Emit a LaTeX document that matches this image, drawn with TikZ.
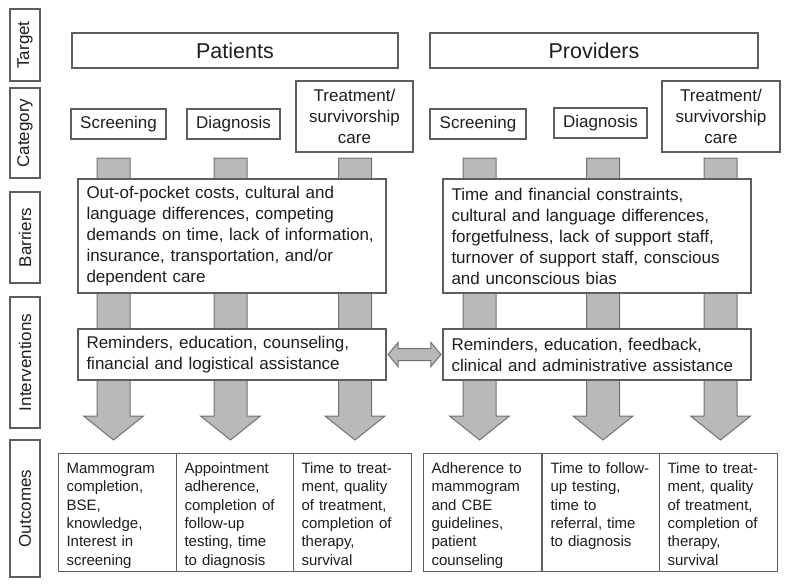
\documentclass[tikz,border=0pt]{standalone}
\usepackage{fontspec}
\setmainfont{Liberation Sans}
\usepackage{tikz}
\usetikzlibrary{calc}

\definecolor{boxgray}{HTML}{5E5E5E}
\definecolor{txt}{HTML}{1E1E1E}
\definecolor{arrowgray}{HTML}{707070}
\definecolor{arrowfill}{HTML}{B9B9B9}

\tikzset{
    box/.style={draw=boxgray, line width=1.1pt, fill=white, text=txt, inner sep=0pt},
    sidelabel/.style={box, rotate=90, minimum height=30pt, font=\fontsize{17}{20}\selectfont},
    target/.style={box, minimum height=35pt, font=\fontsize{21.5}{24}\selectfont},
    catbox/.style={box, align=center, font=\fontsize{17}{21}\selectfont},
    textbox/.style={box, align=left, text width=291pt, inner xsep=8.5pt, font=\fontsize{17}{21}\selectfont},
    outbox/.style={box, anchor=north west, align=left, text width=102pt, inner xsep=8pt, inner ysep=0pt,
        text height=20pt, text depth=98pt, font=\fontsize{15}{18.3}\selectfont},
    fatarrow/.style={draw=arrowgray, line width=1pt, fill=arrowfill},
}

\begin{document}
\begin{tikzpicture}[x=1pt, y=-1pt]

    \useasboundingbox (0,0) rectangle (790,586);

    \node[sidelabel, minimum width=72pt] (lTarget) at (25,45) {Target};
    \node[sidelabel, minimum width=90pt] (lCategory) at (25,133) {Category};
    \node[sidelabel, minimum width=91pt] (lBarriers) at (25,237.5) {Barriers};
    \node[sidelabel, minimum width=131pt] (lInterventions) at (25,362.5) {Interventions};
    \node[sidelabel, minimum width=137pt] (lOutcomes) at (25,508.5) {Outcomes};

    \node[target, minimum width=326pt] (patients) at (235,50.5) {Patients};
    \node[target, minimum width=328pt] (providers) at (594,50.5) {Providers};

    \node[catbox, minimum width=95pt, minimum height=30pt] (scrL) at (118.5,124) {Screening};
    \node[catbox, minimum width=93pt, minimum height=30pt] (diaL) at (233.5,124) {Diagnosis};
    \node[catbox, minimum width=117pt, minimum height=71pt] (trtL) at (354.5,116.5) {Treatment/\\survivorship\\care};
    \node[catbox, minimum width=96pt, minimum height=30pt] (scrR) at (478,124) {Screening};
    \node[catbox, minimum width=93pt, minimum height=30pt] (diaR) at (600.5,123) {Diagnosis};
    \node[catbox, minimum width=118pt, minimum height=71pt] (trtR) at (721,116.5) {Treatment/\\survivorship\\care};

    \node[outbox] (outA) at (58,453) {Mammogram\\completion,\\BSE,\\knowledge,\\Interest in\\screening};
    \node[outbox] (outB) at (176,453) {Appointment\\adherence,\\completion of\\follow-up\\testing, time\\to diagnosis};
    \node[outbox] (outC) at (293,453) {Time to treat-\\ment, quality\\of treatment,\\completion of\\therapy,\\survival};
    \node[outbox] (outD) at (423,453) {Adherence to\\mammogram\\and CBE\\guidelines,\\patient\\counseling};
    \node[outbox] (outE) at (542,453) {Time to follow-\\up testing,\\time to\\referral, time\\to diagnosis};
    \node[outbox] (outF) at (659,453) {Time to treat-\\ment, quality\\of treatment,\\completion of\\therapy,\\survival};

    \coordinate (shafttop) at (0,158);
    \foreach \c/\o/\dx in {scrL/outA/-5, diaL/outB/-3, trtL/outC/0.5, scrR/outD/1.5, diaR/outE/2.5, trtR/outF/-0.5}
        \draw[fatarrow] ($(\c |- shafttop)+(\dx-16.5,0)$) -- ($(\c |- shafttop)+(\dx+16.5,0)$) -- ($(\c |- \o.north)+(\dx+16.5,-37)$) -- ($(\c |- \o.north)+(\dx+30,-37)$) -- ($(\c |- \o.north)+(\dx,-13)$) -- ($(\c |- \o.north)+(\dx-30,-37)$) -- ($(\c |- \o.north)+(\dx-16.5,-37)$) -- cycle;

    \node[textbox, minimum height=114pt] (barL) at (232,236) {Out-of-pocket costs, cultural and\\language differences, competing\\demands on time, lack of information,\\insurance, transportation, and/or\\dependent care};
    \node[textbox, minimum height=114pt] (barR) at (597,236) {Time and financial constraints,\\cultural and language differences,\\forgetfulness, lack of support staff,\\turnover of support staff, conscious\\and unconscious bias};

    \node[textbox, minimum height=51pt] (intL) at (232,354.5) {Reminders, education, counseling,\\financial and logistical assistance};
    \node[textbox, minimum height=51pt] (intR) at (597,354.5) {Reminders, education, feedback,\\clinical and administrative assistance};

    \draw[fatarrow] ($(intL.east)+(1.5,0)$) -- ($(intL.east)+(11.5,-12)$) -- ($(intL.east)+(11.5,-6)$) -- ($(intR.west)+(-11.5,-6)$) -- ($(intR.west)+(-11.5,-12)$) -- ($(intR.west)+(-1.5,0)$) -- ($(intR.west)+(-11.5,12)$) -- ($(intR.west)+(-11.5,6)$) -- ($(intL.east)+(11.5,6)$) -- ($(intL.east)+(11.5,12)$) -- cycle;

\end{tikzpicture}
\end{document}
